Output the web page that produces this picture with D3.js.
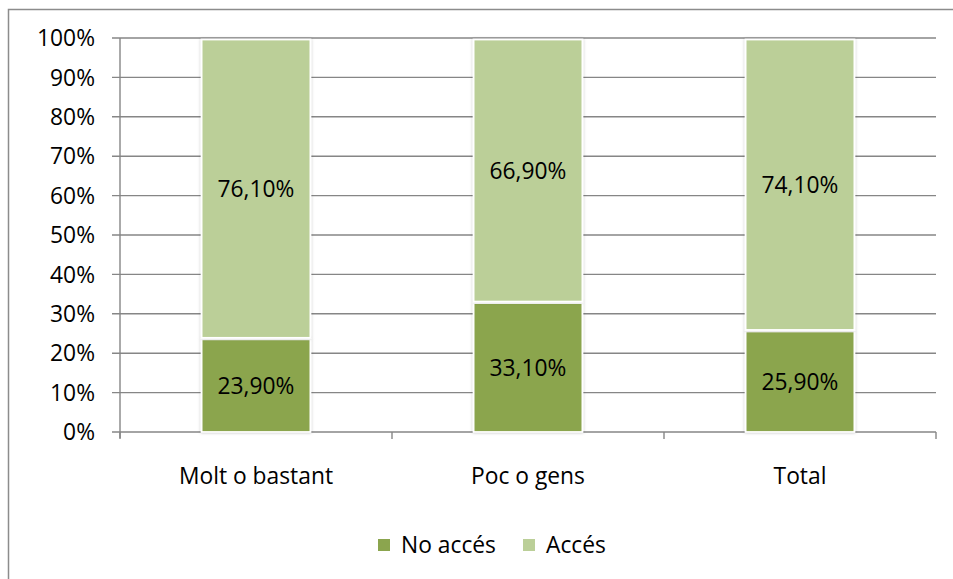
<!DOCTYPE html>
<html>
<head>
<meta charset="utf-8">
<script src="https://cdn.jsdelivr.net/npm/d3@7"></script>
<style>
  body { margin: 0; background: #fff; }
  svg text { font-family: "Open Sans", "Noto Sans", sans-serif; fill: #000; }
</style>
</head>
<body>
<svg id="chart" width="953" height="579"></svg>
<script>
// data
const categories = ["Molt o bastant", "Poc o gens", "Total"];
const seriesNames = ["No accés", "Accés"];
const noAcces = [23.9, 33.1, 25.9];
const acces = [76.1, 66.9, 74.1];
const yTicks = [0, 10, 20, 30, 40, 50, 60, 70, 80, 90, 100];
const colors = ["#8ba54e", "#bbcf98"];

const margin = { left: 120, top: 38, right: 17, bottom: 147 };
const width = 953, height = 579;
const fontSize = "22.8px";

const svg = d3.select("#chart");

// outer chart border
svg.append("rect")
    .attr("x", 8.5).attr("y", 9.5)
    .attr("width", 960).attr("height", 600)
    .attr("fill", "none")
    .attr("stroke", "#8c8c8c")
    .attr("stroke-width", 1.5);

const defs = svg.append("defs");
defs.append("filter").attr("id", "shadow")
    .attr("x", "-10%").attr("y", "-10%").attr("width", "120%").attr("height", "120%")
    .append("feDropShadow")
    .attr("dx", 0).attr("dy", 0).attr("stdDeviation", 1.5)
    .attr("flood-color", "#000").attr("flood-opacity", 0.25);

const xScale = d3.scaleBand()
    .domain(categories)
    .range([margin.left, width - margin.right])
    .paddingInner(0.6)
    .paddingOuter(0.3);

const yScale = d3.scaleLinear()
    .domain([0, 100])
    .range([height - margin.bottom, margin.top]);

// gridlines
svg.append("g")
    .selectAll("line")
    .data(yTicks)
    .join("line")
    .attr("x1", margin.left - 8)
    .attr("x2", width - margin.right)
    .attr("y1", d => yScale(d))
    .attr("y2", d => yScale(d))
    .attr("stroke", "#868686")
    .attr("stroke-width", 1.4);

// y tick labels
svg.append("g")
    .selectAll("text")
    .data(yTicks)
    .join("text")
    .attr("x", 95)
    .attr("y", d => yScale(d))
    .attr("dy", "0.36em")
    .attr("text-anchor", "end")
    .style("font-size", fontSize)
    .text(d => d + "%");

// y axis line
svg.append("line")
    .attr("x1", margin.left).attr("x2", margin.left)
    .attr("y1", yScale(100)).attr("y2", yScale(0) + 6)
    .attr("stroke", "#868686").attr("stroke-width", 1.4);

// category tick marks between bands
const catTicks = d3.range(categories.length + 1).map(i => margin.left + i * (width - margin.right - margin.left) / categories.length);
svg.append("g")
    .selectAll("line")
    .data(catTicks)
    .join("line")
    .attr("x1", d => d).attr("x2", d => d)
    .attr("y1", yScale(0)).attr("y2", yScale(0) + 7)
    .attr("stroke", "#868686").attr("stroke-width", 1.4);

// stacked bars
const rows = categories.map((c, i) => ({ cat: c, "No accés": noAcces[i], "Accés": acces[i] }));
const stack = d3.stack().keys(seriesNames)(rows);

const layers = svg.append("g")
    .selectAll("g")
    .data(stack)
    .join("g")
    .attr("fill", (d, i) => colors[i]);

layers.selectAll("rect")
    .data(d => d)
    .join("rect")
    .attr("x", d => xScale(d.data.cat))
    .attr("width", xScale.bandwidth())
    .attr("y", d => yScale(d[1]) + 1.5)
    .attr("height", d => yScale(d[0]) - yScale(d[1]) - 1.5)
    .attr("stroke", "#fff")
    .attr("stroke-width", 1.8)
    .attr("filter", "url(#shadow)");

// data labels
layers.selectAll("text")
    .data(d => d)
    .join("text")
    .attr("x", d => xScale(d.data.cat) + xScale.bandwidth() / 2)
    .attr("y", d => (yScale(d[0]) + yScale(d[1])) / 2 + 1)
    .attr("dy", "0.36em")
    .attr("text-anchor", "middle")
    .style("font-size", fontSize)
    .text(d => (d[1] - d[0]).toFixed(2).replace(".", ",") + "%");

// category labels
svg.append("g")
    .selectAll("text")
    .data(categories)
    .join("text")
    .attr("x", d => xScale(d) + xScale.bandwidth() / 2)
    .attr("y", 476)
    .attr("dy", "0.36em")
    .attr("text-anchor", "middle")
    .style("font-size", fontSize)
    .text(d => d);

// legend
const legendX = [378, 523];
const legend = svg.append("g")
    .selectAll("g")
    .data(seriesNames)
    .join("g")
    .attr("transform", (d, i) => `translate(${legendX[i]},545)`);
legend.append("rect")
    .attr("x", 0).attr("y", -6)
    .attr("width", 12).attr("height", 12)
    .attr("fill", (d, i) => colors[i]);
legend.append("text")
    .attr("x", 23)
    .attr("dy", "0.36em")
    .style("font-size", fontSize)
    .text(d => d);
</script>
</body>
</html>
